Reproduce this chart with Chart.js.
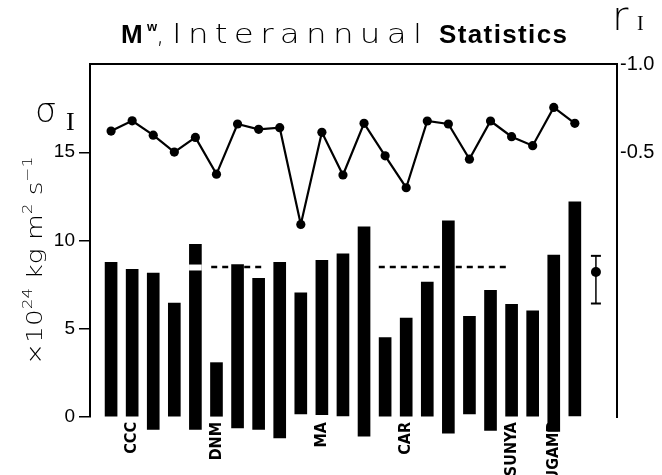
<!DOCTYPE html>
<html>
<head>
<meta charset="utf-8">
<script src="https://cdn.jsdelivr.net/npm/chart.js@4"></script>
<style>
  html, body { margin: 0; padding: 0; background: #fff; }
  #wrap { width: 662px; height: 475px; position: relative; }
</style>
</head>
<body>
<div id="wrap"><canvas id="c"></canvas></div>
<script>
// ---- data ----
// model slots 1..23 (only some are labelled in the figure)
const modelLabels = ['', 'CCC', '', '', '', 'DNM', '', '', '', '', 'MA', '', '', '', 'CAR', '', '', '', '', 'SUNYA', '', 'UGAMP', ''];
// interannual standard deviation sigma_I (x10^24 kg m^2 s^-1): bar top and bar foot
const sigmaTop  = [8.77, 8.37, 8.15, 6.46, 9.79, 3.08, 8.64, 7.86, 8.77, 7.03, 8.88, 9.24, 10.77, 4.50, 5.60, 7.64, 11.11, 5.71, 7.18, 6.39, 6.01, 9.17, 12.19];
const sigmaFoot = [0, 0, -0.70, 0, -0.70, 0, -0.62, -0.70, -1.19, 0.17, 0.13, 0.06, -1.08, 0, 0, 0, -0.91, 0.17, -0.76, 0, 0, -0.81, 0.06];
// white notch in bar 5
const notchSlot = 5;
const notchRange = [8.32, 8.62];
// interannual correlation r_I (right axis)
const rI = [-0.620, -0.678, -0.597, -0.501, -0.584, -0.376, -0.660, -0.630, -0.639, -0.091, -0.613, -0.371, -0.664, -0.480, -0.299, -0.677, -0.660, -0.461, -0.677, -0.588, -0.537, -0.754, -0.664];
// observed value with its range (slot 24)
const obsSlot = 24;
const obsMean = 8.22, obsHigh = 9.13, obsLow = 6.43;
// dashed reference level and the x-extent of its two visible pieces
const refLevel = 8.5;
const refPieces = [[5.75, 8.3], [13.7, 19.9]];
// axis ticks
const leftTicks = [0, 5, 10, 15];
const rightTicks = [-1.0, -0.5];

// ---- build datasets ----
const slots = sigmaTop.map((_, i) => i + 1);
const barData = slots.map((s, i) => ({ x: s, y: [sigmaFoot[i], sigmaTop[i]] }));
const lineData = slots.map((s, i) => ({ x: s, y: rI[i] }));
const dashData = [];
refPieces.forEach((p, k) => {
  if (k > 0) dashData.push({ x: (refPieces[k - 1][1] + p[0]) / 2, y: null });
  dashData.push({ x: p[0], y: refLevel }, { x: p[1], y: refLevel });
});
const labelAt = {};
modelLabels.forEach((l, i) => { if (l) labelAt[i + 1] = l; });

// draw text stretched horizontally by sx, remaining width taken up by letter spacing
function drawFit(ctx, text, x, y, w, font, sx) {
  ctx.save();
  ctx.translate(x, y);
  ctx.scale(sx, 1);
  ctx.font = font;
  ctx.letterSpacing = '0px';
  const m = ctx.measureText(text).width;
  const ls = Math.max(0, (w / sx - m) / Math.max(1, text.length - 1));
  ctx.letterSpacing = ls + 'px';
  ctx.fillText(text, 0, 0);
  ctx.restore();
}

const textPlugin = {
  id: 'texts',
  afterDraw(chart) {
    const ctx = chart.ctx;
    ctx.save();
    ctx.fillStyle = '#000';
    ctx.textBaseline = 'alphabetic';
    ctx.textAlign = 'left';
    // title
    ctx.font = 'bold 26px "Liberation Sans", Arial, sans-serif';
    ctx.fillText('M', 121, 43);
    ctx.font = 'bold 13px "Liberation Sans", Arial, sans-serif';
    ctx.fillText('w', 147, 31);
    ctx.font = '200 27px "DejaVu Sans", sans-serif';
    ctx.fillText(',', 156, 43);
    drawFit(ctx, 'Interannual', 172, 43, 250, '200 26px "DejaVu Sans", Lato, sans-serif', 1.25);
    drawFit(ctx, 'Statistics', 439, 43, 128, 'bold 26px "Liberation Sans", Arial, sans-serif', 1.0);
    // r_I
    ctx.font = '200 40px "DejaVu Sans", Lato, sans-serif';
    ctx.fillText('r', 612, 30);
    ctx.font = '20px "Liberation Serif", serif';
    ctx.fillText('I', 637, 30);
    // sigma_I
    ctx.font = '200 34px "DejaVu Sans", sans-serif';
    ctx.fillText('\u03C3', 35, 122);
    ctx.font = '26px "Liberation Serif", serif';
    ctx.fillText('I', 66, 130);
    // y-axis title, rotated
    ctx.translate(42, 365);
    ctx.rotate(-Math.PI / 2);
    const sx = 1.2;
    ctx.scale(sx, 1);
    const big = '200 22px "DejaVu Sans", Lato, sans-serif';
    const sup = '200 14px "DejaVu Sans", Lato, sans-serif';
    const parts = [['\u00D710', big, 0], ['24', sup, -10], [' kg m', big, 0], ['2', sup, -10], [' s', big, 0], ['\u22121', sup, -10]];
    let total = 0, nch = 0;
    ctx.letterSpacing = '0px';
    parts.forEach(p => { ctx.font = p[1]; total += ctx.measureText(p[0]).width; nch += p[0].length; });
    const ls = Math.max(0, (206 / sx - total) / (nch - 1));
    let u = 0;
    parts.forEach(p => {
      ctx.font = p[1];
      ctx.letterSpacing = ls + 'px';
      ctx.fillText(p[0], u, p[2]);
      u += ctx.measureText(p[0]).width;
    });
    ctx.restore();
  }
};

new Chart(document.getElementById('c'), {
  type: 'bar',
  data: {
    datasets: [
      {
        type: 'line', label: 'r_I', data: lineData, yAxisID: 'y2', xAxisID: 'x',
        borderColor: '#000', borderWidth: 2.2, pointRadius: 4.6, pointBackgroundColor: '#000',
        pointBorderWidth: 0, tension: 0, clip: false, order: 0
      },
      {
        type: 'line', label: 'obs range', data: [{ x: obsSlot, y: obsLow }, { x: obsSlot, y: obsHigh }],
        yAxisID: 'y', borderColor: '#000', borderWidth: 1.5, pointStyle: 'line', pointRadius: 5,
        pointBorderWidth: 2, pointBorderColor: '#000', order: 1
      },
      {
        type: 'scatter', label: 'obs', data: [{ x: obsSlot, y: obsMean }], yAxisID: 'y',
        pointRadius: 5, pointBackgroundColor: '#000', pointBorderWidth: 0, order: 1
      },
      {
        type: 'bar', label: 'notch', data: [{ x: notchSlot, y: notchRange }], yAxisID: 'y',
        backgroundColor: '#fff', barThickness: 12, grouped: false, order: 2
      },
      {
        type: 'line', label: 'ref', data: dashData, yAxisID: 'y', borderColor: '#000',
        borderWidth: 2.6, borderDash: [6, 5], pointRadius: 0, spanGaps: false, order: 3
      },
      {
        type: 'bar', label: 'sigma_I', data: barData, yAxisID: 'y',
        backgroundColor: '#000', barThickness: 12, grouped: false, clip: false, order: 4
      }
    ]
  },
  options: {
    responsive: true,
    maintainAspectRatio: false,
    animation: false,
    devicePixelRatio: 1,
    layout: { padding: { top: 64, left: 0, right: 0, bottom: 0 } },
    plugins: { legend: { display: false }, tooltip: { enabled: false }, title: { display: false } },
    scales: {
      x: {
        type: 'linear', position: 'bottom', min: 0, max: 25, offset: false,
        grid: { display: false, drawTicks: false }, border: { display: false },
        afterBuildTicks: (s) => { s.ticks = Object.keys(labelAt).map(v => ({ value: +v })); },
        afterFit: (s) => { s.height = 58; },
        ticks: {
          autoSkip: false, minRotation: 90, maxRotation: 90, padding: 5, color: '#000',
          font: { family: '"DejaVu Sans Condensed", "Liberation Sans Narrow", "Liberation Sans", sans-serif', size: 16, weight: 'bold' },
          callback: (v) => labelAt[v] || ''
        }
      },
      x2: {
        type: 'linear', position: 'top', min: 0, max: 25, offset: false,
        grid: { display: false, drawTicks: false }, ticks: { display: false },
        border: { display: true, color: '#000', width: 2 },
        afterFit: (s) => { s.height = 0; }
      },
      y: {
        type: 'linear', position: 'left', min: 0, max: 20,
        afterBuildTicks: (s) => { s.ticks = leftTicks.map(v => ({ value: v })); },
        afterFit: (s) => { s.width = 90; },
        grid: { display: true, drawOnChartArea: false, drawTicks: true, tickLength: 11, color: '#000', lineWidth: 1.5 },
        border: { display: true, color: '#000', width: 2 },
        ticks: { color: '#000', padding: 4, font: { family: '"Liberation Sans", Arial, sans-serif', size: 19 } }
      },
      y2: {
        type: 'linear', position: 'right', min: -1, max: 1, reverse: true,
        afterBuildTicks: (s) => { s.ticks = rightTicks.map(v => ({ value: v })); },
        afterFit: (s) => { s.width = 45; },
        grid: { display: false, drawTicks: false },
        border: { display: true, color: '#000', width: 2 },
        ticks: { color: '#000', padding: 3, font: { family: '"Liberation Sans", Arial, sans-serif', size: 20 },
                 callback: (v) => v.toFixed(1) }
      }
    }
  },
  plugins: [textPlugin]
});
</script>
</body>
</html>
